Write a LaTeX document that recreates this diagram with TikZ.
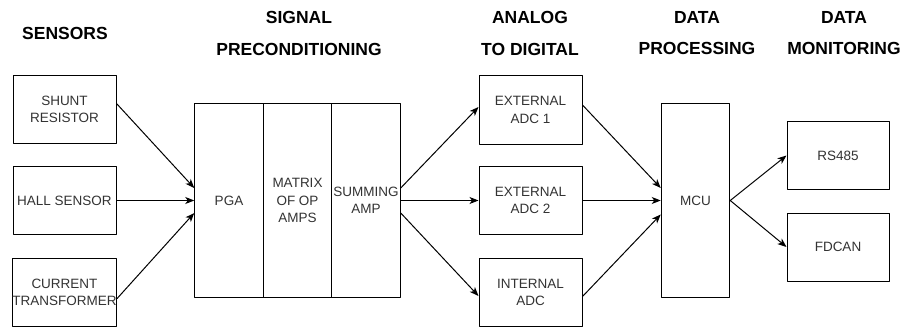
\documentclass[tikz,border=0pt]{standalone}
\usepackage{fontspec}
\setmainfont{Liberation Sans}
\usetikzlibrary{arrows.meta}
\begin{document}
\begin{tikzpicture}[x=1pt, y=-1pt, line width=1pt, line join=round, line cap=round, >={Stealth[length=9pt,width=7pt,inset=2.5pt]},
	blk/.style={draw, fill=white, minimum width=103pt, minimum height=68pt, inner sep=0pt, align=center, text=black!80, font=\fontsize{13.5}{17.5}\selectfont},
	tall/.style={blk, minimum width=68.5pt, minimum height=193pt},
	head/.style={align=center, font=\bfseries\fontsize{17.5}{31.5}\selectfont}]
	\useasboundingbox (0,0) rectangle (906,329);
	% headers
	\foreach \nm/\px/\txt in {hsens/65/SENSORS, hsig/299/{SIGNAL\\PRECONDITIONING}, hadc/530/{ANALOG\\TO DIGITAL}, hproc/697/{DATA\\PROCESSING}, hmon/844/{DATA\\MONITORING}}
		\node[head] (\nm) at (\px,33.25) {\txt};
	% sensors
	\node[blk] (shunt) at (64.5,109.5) {SHUNT\\RESISTOR};
	\node[blk] (hall) at (64.5,200.5) {HALL SENSOR};
	\node[blk] (ct) at (64.5,292.5) {CURRENT\\TRANSFORMER};
	% signal preconditioning
	\node[tall] (pga) at (229,200.5) {PGA};
	\node[tall] (opamp) at (297.5,200.5) {MATRIX\\OF OP\\AMPS};
	\node[tall] (sum) at (366,200.5) {SUMMING\\AMP};
	% analog to digital
	\node[blk] (adca) at (530.5,110) {EXTERNAL\\ADC 1};
	\node[blk] (adcb) at (530.5,200.5) {EXTERNAL\\ADC 2};
	\node[blk] (adci) at (530.5,292.5) {INTERNAL\\ADC};
	% processing and monitoring
	\node[tall] (mcu) at (695.5,200.5) {MCU};
	\node[blk, minimum width=102pt, minimum height=67pt] (rs) at (838,155.5) {RS485};
	\node[blk, minimum width=102pt] (can) at (838,247) {FDCAN};
	% connectors
	\foreach \src/\a/\b in {shunt/6/12.5, hall/0/0, ct/-6/-12.5}
		\draw[->] ([yshift=\a pt]\src.east) -- ([yshift=\b pt]pga.west);
	\foreach \dst/\a/\b in {adca/12.5/3, adcb/0/0, adci/-12.5/-3.5}
		\draw[->] ([yshift=\a pt]sum.east) -- ([yshift=\b pt]\dst.west);
	\foreach \src/\a/\b in {adca/5/12.5, adcb/0/0, adci/-4/-14}
		\draw[->] ([yshift=\a pt]\src.east) -- ([yshift=\b pt]mcu.west);
	\draw[->] (mcu.east) -- (rs.west);
	\draw[->] (mcu.east) -- (can.west);
\end{tikzpicture}
\end{document}
